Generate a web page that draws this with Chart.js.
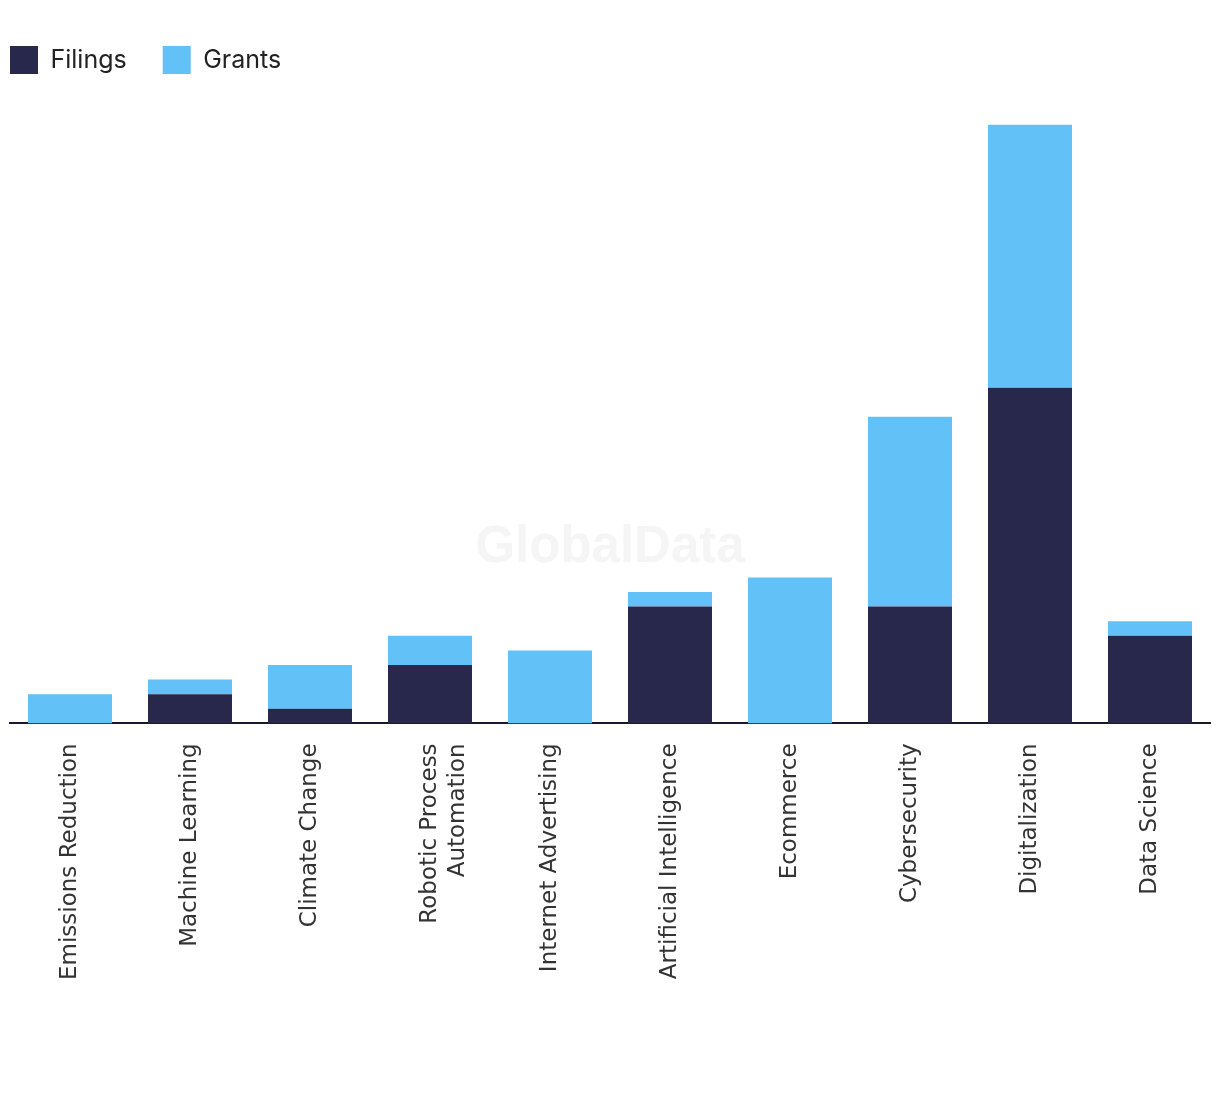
<!DOCTYPE html>
<html>
<head>
<meta charset="utf-8">
<script src="https://cdn.jsdelivr.net/npm/chart.js@4/dist/chart.umd.min.js"></script>
<style>
  html, body { margin: 0; padding: 0; background: #fff; }
  #wrap { width: 1220px; height: 1094px; }
</style>
</head>
<body>
<div id="wrap"><canvas id="chart"></canvas></div>
<script>
const categories = [
  "Emissions Reduction",
  "Machine Learning",
  "Climate Change",
  ["Robotic Process", "Automation"],
  "Internet Advertising",
  "Artificial Intelligence",
  "Ecommerce",
  "Cybersecurity",
  "Digitalization",
  "Data Science",
];
const filings = [0, 2, 1, 4, 0, 8, 0, 8, 23, 6];
const grants = [2, 1, 3, 2, 5, 1, 10, 13, 18, 1];

// faint brand mark behind the bars
const watermark = {
  id: "watermark",
  beforeDatasetsDraw(chart) {
    const { ctx } = chart;
    ctx.save();
    ctx.font = "bold 51px 'Liberation Sans', Arial, sans-serif";
    ctx.fillStyle = "#f5f5f5";
    ctx.textAlign = "center";
    ctx.textBaseline = "middle";
    ctx.fillText("GlobalData", 610, 548);
    ctx.restore();
  },
};

const ctx = document.querySelector("#chart");
new Chart(ctx, {
  type: "bar",
  data: {
    labels: categories,
    datasets: [
      {
        label: "Filings",
        data: filings,
        backgroundColor: "#27284b",
        categoryPercentage: 0.7,
        barPercentage: 1.0,
      },
      {
        label: "Grants",
        data: grants,
        backgroundColor: "#62c1f7",
        categoryPercentage: 0.7,
        barPercentage: 1.0,
      },
    ],
  },
  options: {
    responsive: true,
    maintainAspectRatio: false,
    animation: false,
    layout: { padding: { top: 10, left: -26, right: 10, bottom: 102 } },
    plugins: {
      legend: {
        position: "top",
        align: "start",
        labels: {
          boxWidth: 28,
          boxHeight: 28,
          padding: 36,
          color: "#222",
          font: { family: "Inter, 'Noto Sans', sans-serif", size: 25 },
        },
      },
      tooltip: { enabled: false },
    },
    scales: {
      x: {
        stacked: true,
        grid: { display: false },
        border: { display: true, color: "#1a1a2e", width: 2 },
        ticks: {
          minRotation: 90,
          maxRotation: 90,
          padding: 12,
          color: "#333",
          font: { family: "'DejaVu Sans', sans-serif", size: 23 },
        },
      },
      y: {
        stacked: true,
        display: true,
        min: 0,
        max: 43.8,
        grid: { display: false },
        border: { display: false },
        ticks: { display: false },
        afterFit(scale) {
          scale.width = 36;
        },
      },
    },
  },
  plugins: [watermark],
});
</script>
</body>
</html>
